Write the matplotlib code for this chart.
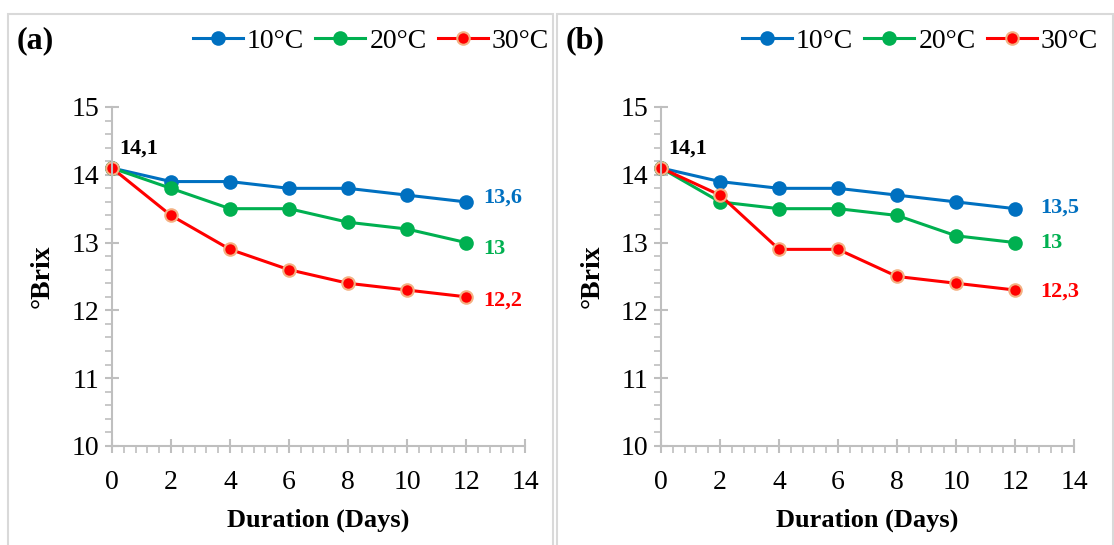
import matplotlib.pyplot as plt
import matplotlib as mpl
from matplotlib.patches import Rectangle
from matplotlib.ticker import MultipleLocator

mpl.rc('font', family=['Liberation Serif', 'DejaVu Serif'], size=20)

days = [0, 2, 4, 6, 8, 10, 12]
labels = ['10°C', '20°C', '30°C']

a_10 = [14.1, 13.9, 13.9, 13.8, 13.8, 13.7, 13.6]
a_20 = [14.1, 13.8, 13.5, 13.5, 13.3, 13.2, 13.0]
a_30 = [14.1, 13.4, 12.9, 12.6, 12.4, 12.3, 12.2]

b_10 = [14.1, 13.9, 13.8, 13.8, 13.7, 13.6, 13.5]
b_20 = [14.1, 13.6, 13.5, 13.5, 13.4, 13.1, 13.0]
b_30 = [14.1, 13.7, 12.9, 12.9, 12.5, 12.4, 12.3]

colors = ['#0070C0', '#00B050', '#FF0000']
edges = ['#0070C0', '#00B050', '#F4B183']

fig = plt.figure(figsize=(11.14, 5.45), dpi=100)

# panel borders
for x0, w in [(0.007, 0.489), (0.5, 0.499)]:
    fig.patches.append(Rectangle((x0, -0.01), w, 0.985, transform=fig.transFigure,
                                 fill=False, edgecolor='#D9D9D9', linewidth=1.5))

panels = [
    ('(a)', 0.1005, [a_10, a_20, a_30], ['13,6', '13', '12,2'], [13.67, 12.9, 12.14], 12.6),
    ('(b)', 0.5934, [b_10, b_20, b_30], ['13,5', '13', '12,3'], [13.52, 13.0, 12.27], 12.85),
]

for tag, left, series, end_txt, end_y, end_x in panels:
    ax = fig.add_axes([left, 0.1817, 0.3708, 0.622])
    for ys, lab, c, e in zip(series, labels, colors, edges):
        ax.plot(days, ys, color=c, lw=2.2, marker='o', ms=9, mfc=c, mec=e, mew=1.5, label=lab)
    ax.set_xlim(0, 14)
    ax.set_ylim(10, 15)
    ax.xaxis.set_major_locator(MultipleLocator(2))
    ax.xaxis.set_minor_locator(MultipleLocator(0.4))
    ax.yaxis.set_major_locator(MultipleLocator(1))
    ax.yaxis.set_minor_locator(MultipleLocator(0.2))
    for s in ['top', 'right']:
        ax.spines[s].set_visible(False)
    for s in ['left', 'bottom']:
        ax.spines[s].set_color('#BFBFBF')
        ax.spines[s].set_linewidth(1.5)
    ax.tick_params(which='major', direction='inout', length=10, width=1.5, color='#BFBFBF', labelsize=20)
    ax.tick_params(which='minor', direction='out', length=5, width=1.2, color='#BFBFBF')
    ax.tick_params(axis='y', pad=4)
    ax.tick_params(axis='x', pad=12)
    ax.set_xlabel('Duration (Days)', fontweight='bold', fontsize=19, labelpad=10)
    ax.set_ylabel('°Brix', fontweight='bold', fontsize=20, labelpad=12)
    ax.text(0.25, 14.38, '14,1', fontweight='bold', fontsize=16, ha='left', va='center')
    for t, y, c in zip(end_txt, end_y, colors):
        ax.text(end_x, y, t, color=c, fontweight='bold', fontsize=16, ha='left', va='center')
    ax.text(-0.23, 1.195, tag, transform=ax.transAxes, fontweight='bold', fontsize=23, va='center')
    ax.legend(loc='center right', bbox_to_anchor=(1.085, 1.195), ncol=3, frameon=False,
              handlelength=1.8, handletextpad=0.15, columnspacing=0.4, fontsize=20,
              borderaxespad=0)
    for ln in ax.lines:
        ln.set_clip_on(False)

plt.savefig('out.png', dpi=100)
